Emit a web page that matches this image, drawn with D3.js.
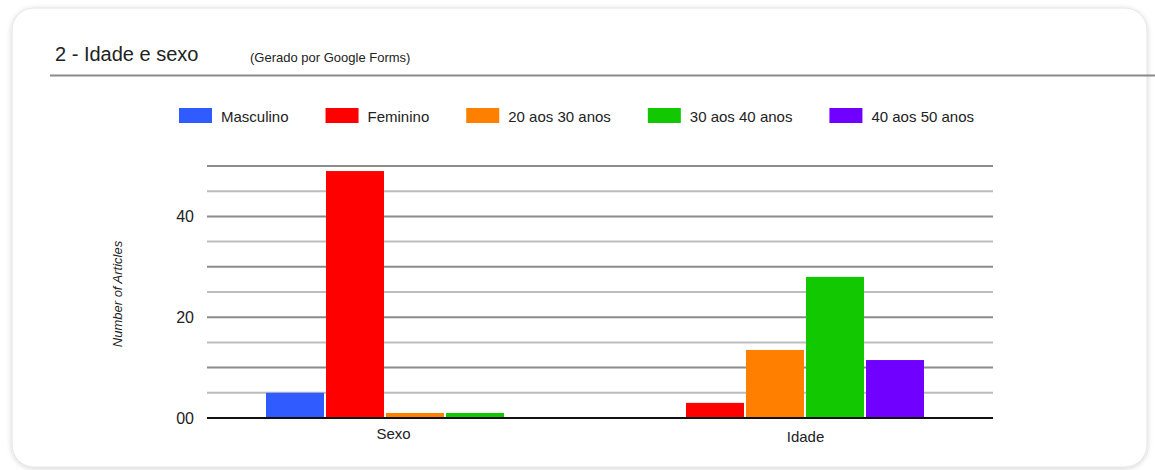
<!DOCTYPE html>
<html>
<head>
<meta charset="utf-8">
<script src="https://cdn.jsdelivr.net/npm/d3@7"></script>
<style>
  html, body { margin: 0; padding: 0; background: #ffffff; }
  svg { display: block; font-family: "Liberation Sans", Arial, Helvetica, sans-serif; }
</style>
</head>
<body>
<svg id="chart" width="1155" height="470"></svg>
<script>
// ---- data ----
const categories = ["Sexo", "Idade"];
const seriesNames = ["Masculino", "Feminino", "20 aos 30 anos", "30 aos 40 anos", "40 aos 50 anos"];
const seriesColors = ["#2f5bff", "#ff0000", "#ff8000", "#12c800", "#7000ff"];
const sexoValues  = [5, 49, 1, 1, 0];
const idadeValues = [0, 3, 13.5, 28, 11.5];
const yTickValues = [0, 20, 40];
const yTickLabels = ["00", "20", "40"];
const gridValues = [0, 5, 10, 15, 20, 25, 30, 35, 40, 45, 50];
const titleText = "2 - Idade e sexo";
const subtitleText = "(Gerado por Google Forms)";
const yAxisTitle = "Number of Articles";

const valuesByCategory = { "Sexo": sexoValues, "Idade": idadeValues };

const svg = d3.select("#chart");

// ---- card ----
const defs = svg.append("defs");
const f = defs.append("filter").attr("id", "shadow").attr("x", "-5%").attr("y", "-5%").attr("width", "110%").attr("height", "110%");
f.append("feDropShadow").attr("dx", 0).attr("dy", 1).attr("stdDeviation", 2.5).attr("flood-color", "#000").attr("flood-opacity", 0.18);

svg.append("rect")
  .attr("x", 12).attr("y", 8).attr("width", 1135).attr("height", 459)
  .attr("rx", 22).attr("ry", 22)
  .attr("fill", "#fff").attr("stroke", "#e4e4e4").attr("stroke-width", 1)
  .attr("filter", "url(#shadow)");

// ---- title ----
svg.append("text").attr("x", 55).attr("y", 61)
  .attr("font-size", 20).attr("fill", "#222").text(titleText);
svg.append("text").attr("x", 250).attr("y", 62)
  .attr("font-size", 13).attr("fill", "#222").text(subtitleText);
svg.append("line").attr("x1", 50).attr("x2", 1155).attr("y1", 75.5).attr("y2", 75.5)
  .attr("stroke", "#8a8a8a").attr("stroke-width", 2);

// ---- scales ----
const plotLeft = 207, plotRight = 993;
const y = d3.scaleLinear().domain([0, 50]).range([418, 166]);

const x0 = d3.scaleBand().domain(categories).range([plotLeft, plotRight])
  .paddingInner(1 / 6).paddingOuter(0.175).align(0.4603);
const x1 = d3.scaleBand().domain(seriesNames).range([0, x0.bandwidth()])
  .paddingInner(2 / 60).paddingOuter(1 / 60);
const color = d3.scaleOrdinal().domain(seriesNames).range(seriesColors);
const xLabel = d3.scalePoint().domain(categories).range([393, 805]);

// ---- gridlines ----
svg.append("g").selectAll("line").data(gridValues.filter(v => v > 0)).join("line")
  .attr("x1", plotLeft).attr("x2", plotRight)
  .attr("y1", d => y(d)).attr("y2", d => y(d))
  .attr("stroke", d => d % 10 === 0 ? "#8c8c8c" : "#bdbdbd")
  .attr("stroke-width", 2);

// ---- bars ----
const groups = svg.append("g").selectAll("g").data(categories).join("g")
  .attr("transform", d => `translate(${x0(d)},0)`);
groups.selectAll("rect")
  .data(c => seriesNames.map((s, i) => ({ s, v: valuesByCategory[c][i] })).filter(d => d.v > 0))
  .join("rect")
  .attr("x", d => x1(d.s))
  .attr("width", x1.bandwidth())
  .attr("y", d => y(d.v))
  .attr("height", d => y(0) - 1 - y(d.v))
  .attr("fill", d => color(d.s));

// ---- baseline ----
svg.append("line").attr("x1", plotLeft).attr("x2", plotRight)
  .attr("y1", y(0)).attr("y2", y(0))
  .attr("stroke", "#111").attr("stroke-width", 2);

// ---- y axis labels ----
const yAxis = d3.axisLeft(y).tickValues(yTickValues)
  .tickFormat((d, i) => yTickLabels[i]).tickSize(0).tickPadding(0);
const yg = svg.append("g").attr("transform", "translate(194,0)").call(yAxis);
yg.select(".domain").remove();
yg.selectAll("text").attr("font-size", 16).attr("fill", "#222")
  .attr("font-family", "Liberation Sans, Arial, sans-serif");

// ---- x axis labels ----
const xAxis = d3.axisBottom(xLabel).tickSize(0).tickPadding(0);
const xg = svg.append("g").attr("transform", "translate(0,428)").call(xAxis);
xg.select(".domain").remove();
xg.selectAll("text").attr("font-size", 15).attr("fill", "#222")
  .attr("font-family", "Liberation Sans, Arial, sans-serif")
  .attr("dy", (d, i) => i === 0 ? "0.71em" : "0.95em");

// ---- y axis title ----
svg.append("text")
  .attr("transform", "translate(122,294) rotate(-90)")
  .attr("text-anchor", "middle")
  .attr("font-size", 13).attr("font-style", "italic").attr("fill", "#222")
  .text(yAxisTitle);

// ---- legend ----
const legend = svg.append("g");
let cx = 179;
seriesNames.forEach((name, i) => {
  legend.append("rect").attr("x", cx).attr("y", 108).attr("width", 33).attr("height", 15)
    .attr("fill", color(name));
  const t = legend.append("text").attr("x", cx + 42).attr("y", 122)
    .attr("font-size", 15).attr("fill", "#222").text(name);
  cx += 42 + t.node().getComputedTextLength() + 37;
});
</script>
</body>
</html>
